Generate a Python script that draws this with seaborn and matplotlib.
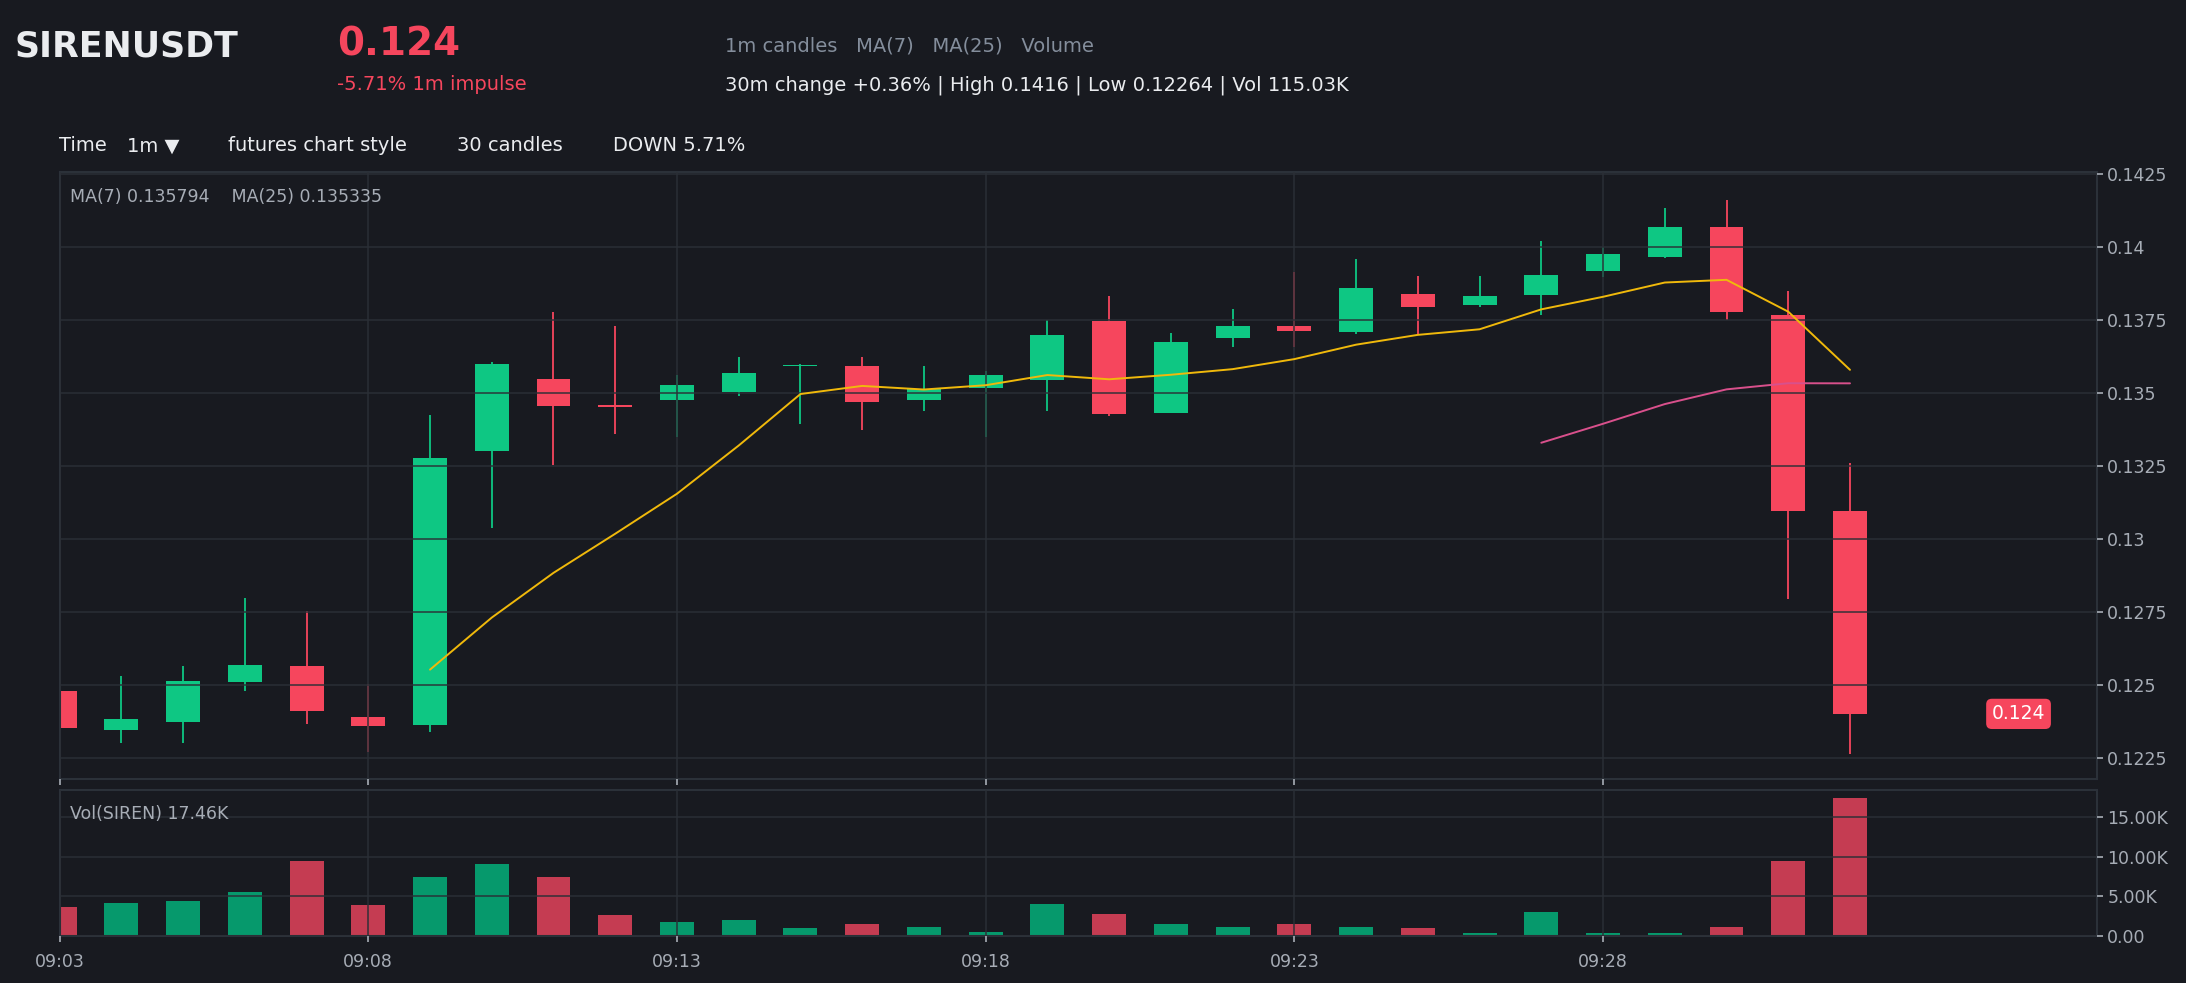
import pandas as pd
import matplotlib.pyplot as plt
import matplotlib.ticker as mticker
import seaborn as sns

# Chart data (1m candles, 09:03 - 09:32)
times = pd.date_range("2024-01-01 09:03", periods=30, freq="min").strftime("%H:%M").tolist()

opens = [0.12477, 0.12345, 0.12372, 0.12508, 0.12565, 0.12391, 0.12362, 0.13299, 0.13548, 0.13456,
         0.13476, 0.13501, 0.13590, 0.13593, 0.13476, 0.13517, 0.13543, 0.13747, 0.13430, 0.13686,
         0.13729, 0.13709, 0.13839, 0.13801, 0.13836, 0.13916, 0.13966, 0.14069, 0.13765, 0.13095]
closes = [0.12351, 0.12384, 0.12514, 0.12569, 0.12410, 0.12358, 0.13275, 0.13599, 0.13456, 0.13452,
          0.13528, 0.13566, 0.13593, 0.13469, 0.13513, 0.13559, 0.13696, 0.13426, 0.13675, 0.13727,
          0.13710, 0.13859, 0.13794, 0.13830, 0.13904, 0.13976, 0.14069, 0.13775, 0.13095, 0.12400]
highs = [0.12478, 0.12531, 0.12563, 0.12798, 0.12751, 0.12504, 0.13425, 0.13605, 0.13778, 0.13727,
         0.13559, 0.13624, 0.13597, 0.13624, 0.13590, 0.13574, 0.13750, 0.13831, 0.13706, 0.13788,
         0.13915, 0.13959, 0.13901, 0.13901, 0.14020, 0.14000, 0.14134, 0.14160, 0.13850, 0.13261]
lows = [0.12351, 0.12300, 0.12300, 0.12477, 0.12365, 0.12270, 0.12338, 0.13038, 0.13254, 0.13360,
        0.13350, 0.13490, 0.13394, 0.13373, 0.13436, 0.13350, 0.13436, 0.13421, 0.13430, 0.13656,
        0.13656, 0.13700, 0.13700, 0.13792, 0.13767, 0.13896, 0.13962, 0.13750, 0.12793, 0.12264]
volumes_k = [3.67, 4.18, 4.43, 5.57, 9.49, 3.92, 7.47, 9.11, 7.47, 2.66,
             1.77, 2.03, 1.01, 1.52, 1.14, 0.51, 4.05, 2.78, 1.52, 1.14,
             1.52, 1.14, 1.01, 0.38, 3.04, 0.38, 0.38, 1.14, 9.49, 17.46]

# Colours
bg = "#181a20"
green = "#0ec783"
red = "#f6465d"
vol_green = "#06996c"
vol_red = "#c53c52"
grid_c = "#2b2f36"
text_c = "#eaecef"
muted_c = "#848e9c"
tick_c = "#a7adb6"

sns.set_theme(style="dark", rc={"axes.facecolor": bg, "figure.facecolor": bg})
plt.rcParams["font.family"] = ["DejaVu Sans"]

df = pd.DataFrame({"minute": range(len(times)), "open": opens, "close": closes,
                   "high": highs, "low": lows, "volume": [v * 1000 for v in volumes_k]})
df["side"] = ["up" if c >= o else "down" for o, c in zip(df["open"], df["close"])]
df["ma7"] = df["close"].rolling(7).mean()
df["ma25"] = df["close"].rolling(25).mean()

fig = plt.figure(figsize=(21.86, 9.83), dpi=100)
ax = fig.add_axes([0.02726, 0.20753, 0.93200, 0.61750])
ax_vol = fig.add_axes([0.02726, 0.04781, 0.93200, 0.14853])

# Candles
cols = [green if s == "up" else red for s in df["side"]]
ax.vlines(df["minute"], df["low"], df["high"], colors=cols, linewidth=1.3, zorder=1)
body_low = [min(o, c) for o, c in zip(df["open"], df["close"])]
body_h = [max(abs(c - o), 0.00005) for o, c in zip(df["open"], df["close"])]
ax.bar(df["minute"], body_h, bottom=body_low, width=0.55, color=cols, linewidth=0, zorder=1.5)

# Moving averages
sns.lineplot(data=df, x="minute", y="ma7", color="#f0b90b", linewidth=1.4, ax=ax, zorder=3)
sns.lineplot(data=df, x="minute", y="ma25", color="#d9508c", linewidth=1.4, ax=ax, zorder=3)

# Volume
sns.barplot(data=df, x="minute", y="volume", hue="side", palette={"up": vol_green, "down": vol_red},
            native_scale=True, dodge=False, width=0.55, saturation=1, errorbar=None,
            legend=False, linewidth=0, ax=ax_vol)

tick_pos = list(range(0, 30, 5))
for a in (ax, ax_vol):
    a.set_facecolor(bg)
    a.set_xlim(0, 33.0)
    a.set_xticks(tick_pos)
    a.set_axisbelow(False)
    a.grid(True, color=grid_c, linewidth=1.1, alpha=0.95)
    a.yaxis.tick_right()
    a.tick_params(axis="both", colors=tick_c, labelsize=12.5, length=4, width=1.2,
                  bottom=True, right=True, left=False)
    a.set_xlabel("")
    a.set_ylabel("")
    for sp in a.spines.values():
        sp.set_color("#2b3139")
        sp.set_linewidth(1.5)

ax.set_ylim(0.12177, 0.14256)
ax.set_yticks([0.1225, 0.125, 0.1275, 0.13, 0.1325, 0.135, 0.1375, 0.14, 0.1425])
ax.yaxis.set_major_formatter(mticker.FuncFormatter(lambda v, p: f"{v:g}"))
ax.set_xticklabels([])

ax_vol.set_ylim(0, 18450)
ax_vol.set_yticks([0, 5000, 10000, 15000])
ax_vol.yaxis.set_major_formatter(
    mticker.FuncFormatter(lambda v, p: "0.00" if v == 0 else f"{v / 1000:.2f}K"))
ax_vol.set_xticklabels([times[i] for i in tick_pos])
ax_vol.tick_params(axis="x", pad=8)

# Legends inside the panels
ax.text(0.0051, 0.958, f"MA(7) {0.135794}    MA(25) {0.135335}", transform=ax.transAxes,
        color=tick_c, fontsize=12.5, va="center", ha="left")
ax_vol.text(0.0051, 0.836, "Vol(SIREN) 17.46K", transform=ax_vol.transAxes,
            color=tick_c, fontsize=12.5, va="center", ha="left")

# Last price badge
ax.text(31.73, closes[-1], f"{closes[-1]:g}", color="white", fontsize=13.5, ha="center", va="center",
        zorder=5, bbox=dict(boxstyle="round,pad=0.3,rounding_size=0.3", fc=red, ec="none"))

# Header
fig.text(0.00686, 0.9532, "SIRENUSDT", color=text_c, fontsize=25, fontweight="bold", va="center")
fig.text(0.1542, 0.9552, "0.124", color=red, fontsize=28, fontweight="bold", va="center")
fig.text(0.1542, 0.9145, "-5.71% 1m impulse", color=red, fontsize=14, va="center")
fig.text(0.3317, 0.9532, "1m candles   MA(7)   MA(25)   Volume", color=muted_c, fontsize=14, va="center")
fig.text(0.3317, 0.9135, "30m change +0.36% | High 0.1416 | Low 0.12264 | Vol 115.03K",
         color=text_c, fontsize=14, va="center")

# Toolbar
toolbar = [(0.02699, "Time"), (0.0581, "1m ▼"), (0.1043, "futures chart style"),
           (0.2091, "30 candles"), (0.2804, "DOWN 5.71%")]
for x, label in toolbar:
    fig.text(x, 0.8515, label, color=text_c, fontsize=14, va="center")

fig.savefig("out.png", dpi=100, facecolor=bg)
